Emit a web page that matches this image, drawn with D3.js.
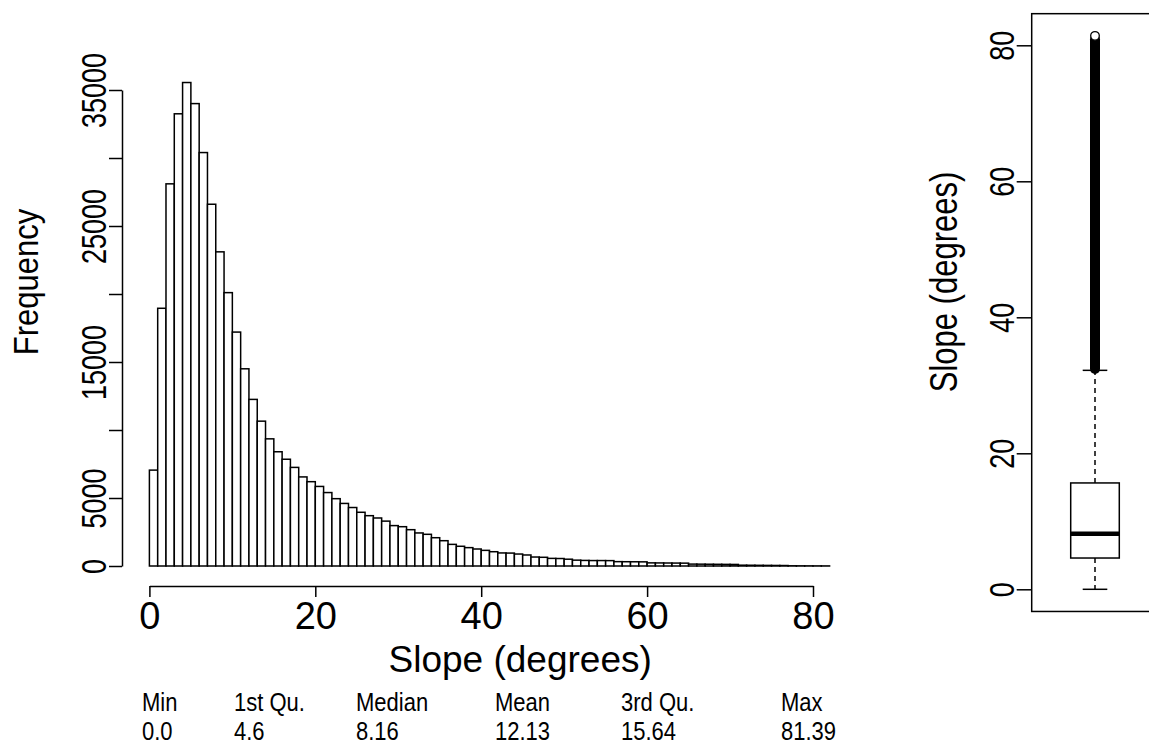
<!DOCTYPE html>
<html>
<head>
<meta charset="utf-8">
<script src="https://cdn.jsdelivr.net/npm/d3@7"></script>
<style>
  html, body { margin: 0; padding: 0; background: #fff; }
  svg { display: block; }
  text { font-family: "Liberation Sans", Arial, Helvetica, sans-serif; fill: #000; }
  .stat { font-family: "Liberation Sans", Arial, sans-serif; }
</style>
</head>
<body>
<svg id="chart" width="1149" height="746"></svg>
<script>
// ---------------- DATA ----------------
// Histogram: 1-degree bins starting at 0 (bin i covers [i, i+1))
const binStart = 0;
const binWidth = 1;
const counts = [
  7050, 18950, 28100, 33250, 35550, 34000, 30400, 26600, 23100, 20100,
  17200, 14500, 12250, 10650, 9350, 8400, 7850, 7250, 6550, 6200,
  5850, 5400, 4950, 4600, 4300, 3950, 3700, 3530, 3300, 2970,
  2890, 2670, 2430, 2330, 2080, 1860, 1590, 1450, 1350, 1250,
  1150, 1050, 960, 950, 880, 810, 660, 640, 560, 550,
  500, 430, 410, 400, 400, 395, 320, 315, 310, 305,
  230, 225, 220, 215, 210, 140, 135, 130, 125, 120,
  115, 60, 55, 50, 45, 40, 35, 15, 12, 10,
  8, 6
];
const histXTicks = [0, 20, 40, 60, 80];
const histYTicks = [0, 5000, 10000, 15000, 20000, 25000, 30000, 35000];
const histYLabels = ["0", "5000", "", "15000", "", "25000", "", "35000"];
const histXTitle = "Slope (degrees)";
const histYTitle = "Frequency";

// Boxplot summary
const statNames = ["Min", "1st Qu.", "Median", "Mean", "3rd Qu.", "Max"];
const statValues = ["0.0", "4.6", "8.16", "12.13", "15.64", "81.39"];
const boxMin = 0.0, boxQ1 = 4.6, boxMedian = 8.16, boxQ3 = 15.64, boxMax = 81.39;
const upperWhisker = 32.2;            // last value within 1.5*IQR
const outlierBand = [32.4, 80.9];      // dense run of outliers (drawn as overlapping circles)
const lonelyOutliers = [81.39];        // isolated outlier at the top
const boxYTicks = [0, 20, 40, 60, 80];
const boxYTitle = "Slope (degrees)";

// ---------------- DRAW ----------------
const svg = d3.select("#chart");

// Histogram scales
const x = d3.scaleLinear().domain([0, 80]).range([149.4, 813]);
const y = d3.scaleLinear().domain([0, 35000]).range([566, 90]);

const bins = counts.map((c, i) => ({ x0: binStart + i * binWidth, x1: binStart + (i + 1) * binWidth, n: c }));

svg.append("g").selectAll("rect").data(bins).join("rect")
  .attr("x", d => x(d.x0))
  .attr("y", d => y(d.n))
  .attr("width", d => x(d.x1) - x(d.x0))
  .attr("height", d => y(0) - y(d.n))
  .attr("fill", "#fff")
  .attr("stroke", "#000")
  .attr("stroke-width", 1.5);

// X axis
const xAxisY = 586;
const gx = svg.append("g").attr("transform", `translate(0,${xAxisY})`)
  .call(d3.axisBottom(x).tickValues(histXTicks).tickSize(11).tickSizeOuter(0).tickPadding(4).tickFormat(d3.format("d")));
gx.select(".domain").attr("stroke-width", 1.5);
gx.selectAll(".tick line").attr("stroke-width", 1.5);
gx.selectAll(".tick text").attr("font-size", 38).attr("dy", "0.74em").attr("font-family", "Liberation Sans, Arial, sans-serif");

svg.append("text").attr("x", x(44.7)).attr("y", 672).attr("text-anchor", "middle")
  .attr("font-size", 37).text(histXTitle);

// Y axis (R-style: labels parallel to axis)
const yAxisX = 122;
const gy = svg.append("g").attr("transform", `translate(${yAxisX},0)`)
  .call(d3.axisLeft(y).tickValues(histYTicks).tickSize(13).tickSizeOuter(0).tickFormat(() => ""));
gy.select(".domain").attr("stroke-width", 1.5);
gy.selectAll(".tick line").attr("stroke-width", 1.5);
gy.selectAll(".tick").each(function (d, i) {
  if (!histYLabels[i]) return;
  d3.select(this).append("text")
    .attr("transform", `translate(-16,0) rotate(-90) scale(1,1.28)`)
    .attr("text-anchor", "middle")
    .attr("font-size", 27)
    .attr("fill", "#000")
    .text(histYLabels[i]);
});

svg.append("text")
  .attr("transform", `translate(38,282) rotate(-90) scale(1,1.15)`)
  .attr("text-anchor", "middle").attr("font-size", 31).text(histYTitle);

// Summary statistics table
const statX = [142, 234, 356, 495, 621, 781];
svg.append("g").selectAll("text").data(statNames).join("text")
  .attr("class", "stat").attr("transform", (d, i) => `translate(${statX[i]},711) scale(0.88,1)`)
  .attr("font-size", 25).text(d => d);
svg.append("g").selectAll("text").data(statValues).join("text")
  .attr("class", "stat").attr("transform", (d, i) => `translate(${statX[i]},740) scale(0.88,1)`)
  .attr("font-size", 25).text(d => d);

// ---------------- BOXPLOT ----------------
const by = d3.scaleLinear().domain([0, 80]).range([589.3, 45.3]);
const frame = { left: 1031.7, right: 1158, top: by(84.65), bottom: by(-3.26) };
svg.append("rect").attr("x", frame.left).attr("y", frame.top)
  .attr("width", frame.right - frame.left).attr("height", frame.bottom - frame.top)
  .attr("fill", "none").attr("stroke", "#000").attr("stroke-width", 1.5);

const gb = svg.append("g").attr("transform", `translate(${frame.left},0)`)
  .call(d3.axisLeft(by).tickValues(boxYTicks).tickSize(15).tickSizeOuter(0).tickFormat(() => ""));
gb.select(".domain").remove();
gb.selectAll(".tick line").attr("stroke-width", 1.5);
gb.selectAll(".tick").append("text")
  .attr("transform", `translate(-18,0) rotate(-90) scale(1,1.28)`)
  .attr("text-anchor", "middle").attr("font-size", 27).attr("fill", "#000")
  .text(d => d3.format("d")(d));

svg.append("text")
  .attr("transform", `translate(957,282) rotate(-90) scale(1,1.28)`)
  .attr("text-anchor", "middle").attr("font-size", 31).text(boxYTitle);

const cx = 1095, halfW = 24.3, capHalf = 12.3;
// whiskers
svg.append("line").attr("x1", cx).attr("x2", cx).attr("y1", by(boxQ1)).attr("y2", by(boxMin))
  .attr("stroke", "#000").attr("stroke-width", 1.5).attr("stroke-dasharray", "5,4");
svg.append("line").attr("x1", cx).attr("x2", cx).attr("y1", by(boxQ3)).attr("y2", by(upperWhisker))
  .attr("stroke", "#000").attr("stroke-width", 1.5).attr("stroke-dasharray", "5,4");
[boxMin, upperWhisker].forEach(v => {
  svg.append("line").attr("x1", cx - capHalf).attr("x2", cx + capHalf).attr("y1", by(v)).attr("y2", by(v))
    .attr("stroke", "#000").attr("stroke-width", 1.5);
});
// box
svg.append("rect").attr("x", cx - halfW).attr("y", by(boxQ3)).attr("width", 2 * halfW)
  .attr("height", by(boxQ1) - by(boxQ3)).attr("fill", "#fff").attr("stroke", "#000").attr("stroke-width", 1.5);
svg.append("line").attr("x1", cx - halfW).attr("x2", cx + halfW).attr("y1", by(boxMedian)).attr("y2", by(boxMedian))
  .attr("stroke", "#000").attr("stroke-width", 4.5);
// dense outlier run
svg.append("line").attr("x1", cx).attr("x2", cx).attr("y1", by(outlierBand[0])).attr("y2", by(outlierBand[1]))
  .attr("stroke", "#000").attr("stroke-width", 10).attr("stroke-linecap", "round");
svg.append("g").selectAll("circle").data(lonelyOutliers).join("circle")
  .attr("cx", cx).attr("cy", d => by(d)).attr("r", 4.3)
  .attr("fill", "#fff").attr("stroke", "#000").attr("stroke-width", 1.3);
</script>
</body>
</html>
